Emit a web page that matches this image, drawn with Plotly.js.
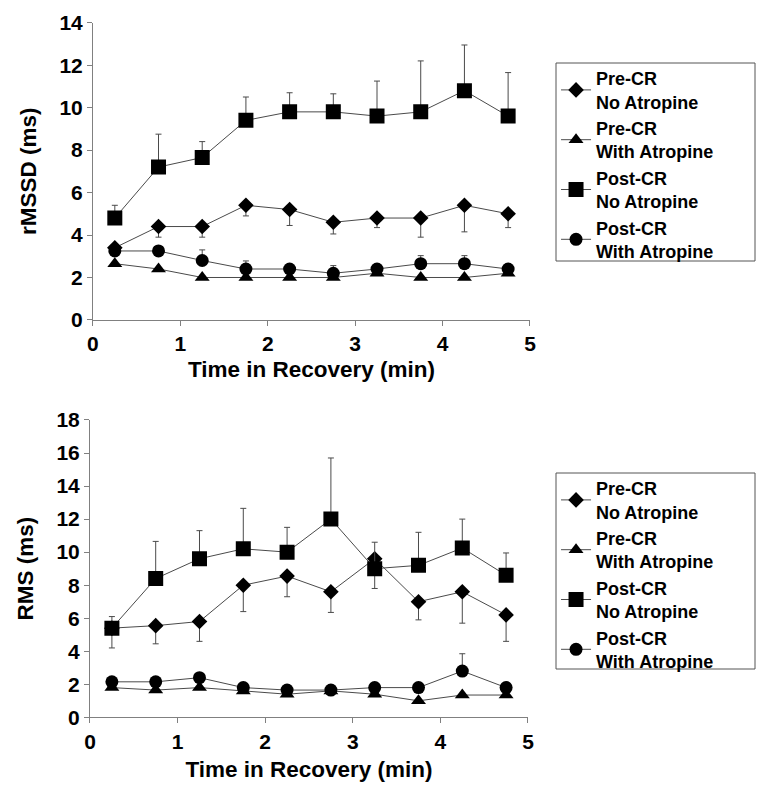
<!DOCTYPE html>
<html>
<head>
<meta charset="utf-8">
<script src="https://cdn.plot.ly/plotly-3.0.1.min.js"></script>
<style>html,body{margin:0;padding:0;background:#fff;}#chart{width:762px;height:785px;}</style>
</head>
<body>
<div id="chart"></div>
<script>
// ---- Data ----
const times = [0.25, 0.75, 1.25, 1.75, 2.25, 2.75, 3.25, 3.75, 4.25, 4.75];
const seriesNames = ["Pre-CR<br>No Atropine", "Pre-CR<br>With Atropine", "Post-CR<br>No Atropine", "Post-CR<br>With Atropine"];

// Top panel: rMSSD (ms)
const rmssdPreNoAtr     = [3.4, 4.4, 4.4, 5.4, 5.2, 4.6, 4.8, 4.8, 5.4, 5.0];
const rmssdPreNoAtrErrL = [0.0, 0.5, 0.5, 0.5, 0.75, 0.55, 0.45, 0.9, 1.25, 0.65];
const rmssdPreAtr       = [2.65, 2.4, 2.0, 2.0, 2.0, 2.0, 2.2, 2.0, 2.0, 2.2];
const rmssdPostNoAtr    = [4.8, 7.2, 7.65, 9.4, 9.8, 9.8, 9.6, 9.8, 10.8, 9.6];
const rmssdPostNoAtrErrU= [0.6, 1.55, 0.75, 1.1, 0.9, 0.85, 1.65, 2.4, 2.15, 2.05];
const rmssdPostAtr      = [3.25, 3.25, 2.8, 2.4, 2.4, 2.2, 2.4, 2.65, 2.65, 2.4];
const rmssdPostAtrErrU  = [0.0, 0.0, 0.5, 0.38, 0.0, 0.36, 0.0, 0.38, 0.38, 0.0];

// Bottom panel: RMS (ms)
const rmsPreNoAtr       = [5.4, 5.55, 5.8, 8.0, 8.55, 7.6, 9.6, 7.0, 7.6, 6.2];
const rmsPreNoAtrErrL   = [1.2, 1.1, 1.2, 1.6, 1.25, 1.25, 1.8, 1.1, 1.9, 1.6];
const rmsPreAtr         = [1.8, 1.65, 1.8, 1.6, 1.4, 1.6, 1.4, 1.0, 1.35, 1.35];
const rmsPostNoAtr      = [5.4, 8.4, 9.6, 10.2, 10.0, 12.0, 9.0, 9.2, 10.25, 8.6];
const rmsPostNoAtrErrU  = [0.7, 2.25, 1.7, 2.45, 1.5, 3.7, 1.6, 2.0, 1.75, 1.35];
const rmsPostAtr        = [2.15, 2.15, 2.4, 1.8, 1.65, 1.65, 1.8, 1.8, 2.8, 1.8];
const rmsPostAtrErrU    = [0, 0, 0, 0, 0, 0, 0, 0, 1.05, 0];

const yTicksTop = [0, 2, 4, 6, 8, 10, 12, 14];
const yTicksBot = [0, 2, 4, 6, 8, 10, 12, 14, 16, 18];
const xTicks = [0, 1, 2, 3, 4, 5];

// ---- Styling ----
const FONT = "Liberation Sans, Arial, Helvetica, sans-serif";
const lineCol = "#4a4a4a";
const axisCol = "#808080";
const symbols = ["diamond", "triangle-up", "square", "circle"];
const sizes = [12, 13, 15, 13];

function mk(name, idx, y, xa, ya, legend, errU, errL) {
  const t = {
    type: "scatter", mode: "lines+markers", x: times, y: y,
    name: "<b>" + name.replace("<br>", "</b><br><b>") + "</b>",
    xaxis: xa, yaxis: ya, legend: legend,
    line: {color: lineCol, width: 1},
    marker: {symbol: symbols[idx], size: sizes[idx], color: "#000"}
  };
  if (errU || errL) {
    t.error_y = {
      type: "data", symmetric: false,
      array: errU || times.map(() => 0),
      arrayminus: errL || times.map(() => 0),
      color: lineCol, thickness: 1, width: 3
    };
  }
  return t;
}

const data = [
  mk(seriesNames[0], 0, rmssdPreNoAtr, "x", "y", "legend", null, rmssdPreNoAtrErrL),
  mk(seriesNames[1], 1, rmssdPreAtr, "x", "y", "legend"),
  mk(seriesNames[2], 2, rmssdPostNoAtr, "x", "y", "legend", rmssdPostNoAtrErrU, null),
  mk(seriesNames[3], 3, rmssdPostAtr, "x", "y", "legend", rmssdPostAtrErrU, null),
  mk(seriesNames[0], 0, rmsPreNoAtr, "x2", "y2", "legend2", null, rmsPreNoAtrErrL),
  mk(seriesNames[1], 1, rmsPreAtr, "x2", "y2", "legend2"),
  mk(seriesNames[2], 2, rmsPostNoAtr, "x2", "y2", "legend2", rmsPostNoAtrErrU, null),
  mk(seriesNames[3], 3, rmsPostAtr, "x2", "y2", "legend2", rmsPostAtrErrU, null)
];

const tickFont = {family: FONT, size: 21, color: "#000", weight: "bold"};
const titleFont = {family: FONT, size: 22.5, color: "#000", weight: "bold"};
const bold = v => "<b>" + v + "</b>";

function xax(domain, anchor, standoff) {
  return {
    domain: domain, anchor: anchor, range: [0, 5], tickvals: xTicks, ticktext: xTicks.map(bold),
    showline: true, linecolor: axisCol, linewidth: 1, ticks: "outside", ticklen: 5, tickcolor: axisCol,
    showgrid: false, zeroline: false, tickfont: tickFont,
    title: {text: "<b>Time in Recovery (min)</b>", font: titleFont, standoff: standoff}
  };
}
function yax(domain, anchor, range, tv, title) {
  return {
    domain: domain, anchor: anchor, range: range, tickvals: tv, ticktext: tv.map(bold),
    showline: true, linecolor: axisCol, linewidth: 1, ticks: "outside", ticklen: 5, tickcolor: axisCol,
    showgrid: false, zeroline: false, tickfont: tickFont,
    title: {text: "<b>" + title + "</b>", font: titleFont, standoff: 16}
  };
}

const legendBase = {
  x: 0.7297, xanchor: "left", yanchor: "top",
  borderwidth: 0, bgcolor: "rgba(0,0,0,0)",
  font: {family: FONT, size: 18, color: "#000"},
  tracegroupgap: 0, itemwidth: 30
};

function box(y0, y1) {
  return {type: "rect", xref: "paper", yref: "paper",
    x0: 556 / 762, x1: 755 / 762, y0: 1 - y1 / 785, y1: 1 - y0 / 785,
    line: {color: "#555", width: 1}, fillcolor: "rgba(0,0,0,0)", layer: "below"};
}

const layout = {
  width: 762, height: 785,
  margin: {l: 0, r: 0, t: 0, b: 0},
  paper_bgcolor: "#fff", plot_bgcolor: "#fff",
  showlegend: true,
  xaxis: xax([0.1220, 0.6955], "y", 7),
  yaxis: yax([0.5924, 0.9711], "x", [0, 14], yTicksTop, "rMSSD (ms)"),
  xaxis2: xax([0.1181, 0.6929], "y2", 9),
  yaxis2: yax([0.0862, 0.4650], "x2", [0, 18], yTicksBot, "RMS (ms)"),
  legend: Object.assign({}, legendBase, {y: 1 - 60 / 785}),
  legend2: Object.assign({}, legendBase, {y: 1 - 470 / 785}),
  shapes: [box(63, 261), box(473, 669)]
};

Plotly.newPlot("chart", data, layout, {displayModeBar: false, staticPlot: true});
</script>
</body>
</html>
